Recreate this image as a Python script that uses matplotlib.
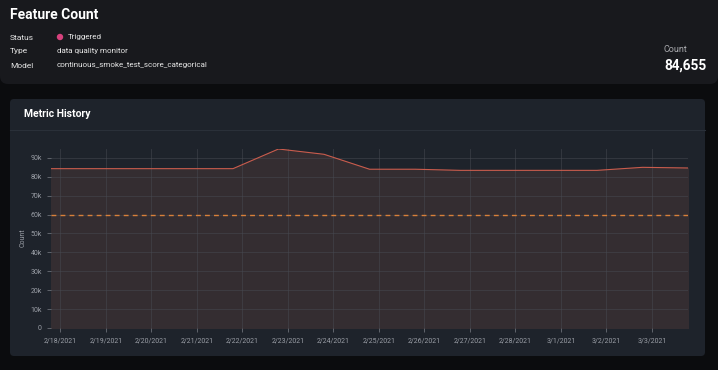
import matplotlib
matplotlib.use("Agg")
import matplotlib.pyplot as plt
from matplotlib.patches import FancyBboxPatch, Circle
from matplotlib.ticker import FuncFormatter
import pandas as pd

plt.rcParams['font.family'] = ['Roboto', 'DejaVu Sans']

# data (one point per day, local time offset)
dates = pd.date_range("2021-02-17 19:00", periods=15, freq="D")
counts = [84300, 84300, 84300, 84300, 84300, 94700, 91900, 84000,
          84000, 83400, 83400, 83400, 83400, 85000, 84655]
threshold = 60000
tick_days = pd.date_range("2021-02-18", "2021-03-03", freq="D")
tick_labels = [f"{d.month}/{d.day}/{d.year}" for d in tick_days]

W, H = 718, 370
fig = plt.figure(figsize=(W / 100, H / 100), dpi=100)
fig.patch.set_facecolor("#0b0c0e")

# background layer in pixel coords
bg = fig.add_axes([0, 0, 1, 1])
bg.set_xlim(0, W)
bg.set_ylim(H, 0)
bg.axis("off")
bg.add_patch(FancyBboxPatch((0, -10), W, 94, boxstyle="round,pad=0,rounding_size=8",
                            fc="#18191d", ec="none"))
bg.add_patch(FancyBboxPatch((10, 99), 695, 257, boxstyle="round,pad=0,rounding_size=4",
                            fc="#1e232b", ec="none"))
bg.plot([10, 705], [130, 130], color="#2a3039", lw=0.8)

# header text
bg.text(10, 15, "Feature Count", color="white", fontsize=10, fontweight="bold", va="center")
for i, (k, v) in enumerate([("Status", "Triggered"), ("Type", "data quality monitor"),
                            ("Model", "continuous_smoke_test_score_categorical")]):
    y = 37.5 + i * 14
    bg.text(10, y, k, color="#e6e6e6", fontsize=6, va="center")
    x = 68 if i == 0 else 57
    bg.text(x, y - 0.5, v, color="#e6e6e6", fontsize=5.8, va="center")
bg.add_patch(Circle((60, 37), 3.2, fc="#d6417c", ec="none"))
bg.text(664, 49, "Count", color="#a8a9ad", fontsize=6.5, va="center")
bg.text(664, 66, "84,655", color="white", fontsize=9.8, fontweight="bold", va="center")
bg.text(24, 114, "Metric History", color="white", fontsize=7.5, fontweight="bold", va="center")
bg.text(23, 238, "Count", color="#9a9ea6", fontsize=5, rotation=90, va="center", ha="center")

# chart
ax = fig.add_axes([51 / W, (H - 328) / H, (688 - 51) / W, (328 - 149) / H])
ax.set_facecolor("#1e232b")
ax.fill_between(dates, counts, 0, color="#342d31", zorder=1)
ax.plot(dates, counts, color="#c95c4d", lw=0.8, zorder=3)
ax.axhline(threshold, color="#d9803a", lw=1.0, dashes=(3.5, 3), zorder=3)

ax.set_xlim(dates[0], dates[-1])
ax.set_ylim(0, 94700)
ax.set_yticks(range(0, 90001, 10000))
ax.yaxis.set_major_formatter(FuncFormatter(lambda v, p: "0" if v == 0 else f"{int(v / 1000)}k"))
ax.set_xticks(tick_days)
ax.set_xticklabels(tick_labels)
ax.tick_params(colors="#6b6f77", labelcolor="#9a9ea6", labelsize=5, length=3, width=0.6)
ax.grid(True, color="#474a52", lw=0.6, alpha=0.6, zorder=2)
ax.set_axisbelow(False)
for s in ax.spines.values():
    s.set_visible(False)

fig.savefig("out.png", dpi=100, facecolor=fig.get_facecolor())
